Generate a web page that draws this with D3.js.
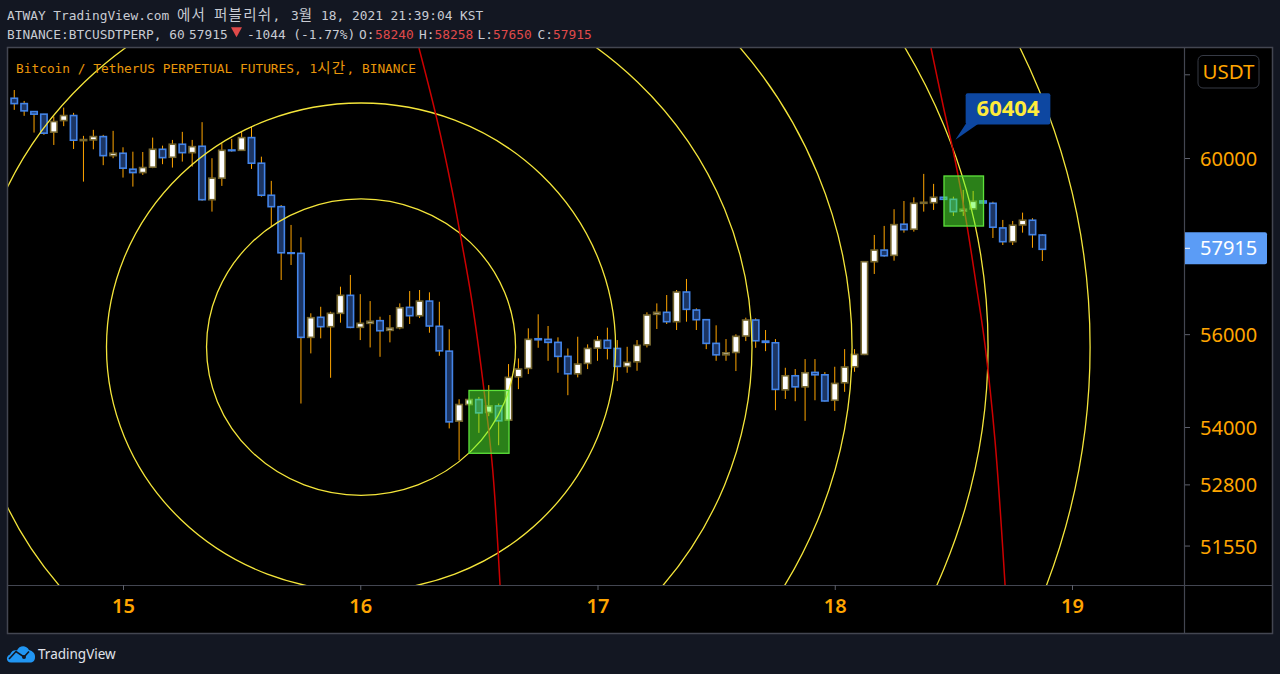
<!DOCTYPE html>
<html><head><meta charset="utf-8">
<style>html,body{margin:0;padding:0;background:#131722;overflow:hidden}svg{display:block}</style>
<script src="https://cdn.jsdelivr.net/npm/d3@7/dist/d3.min.js"></script>
</head><body><div id="c"></div>
<script>
// Hourly candles; first candle is 11 hours before the "15" tick
const firstHour = -11;
const opens = [61445,61316,61125,61063,60634,60910,61030,60434,60450,60529,60079,60135,59761,59682,59808,60229,60041,60348,60149,60300,59051,59551,60212,60205,60505,59901,59154,58890,57836,57823,55952,56393,56186,56481,56880,56172,56260,56318,56106,56163,56613,56428,56752,56194,55650,54145,54499,54605,54330,54469,54166,55094,55276,55921,55908,55842,55536,55159,55384,55716,55886,55709,55319,55419,55789,56459,56503,56296,56954,56554,56340,55820,55570,55622,55981,56333,55870,55833,54813,55116,54878,55189,55137,54590,54965,55311,55579,57634,57897,57778,58487,58372,58968,58982,59107,59060,58785,58838,59021,58968,58402,58088,58470,58578,58240];
const highs = [61643,61380,61125,61070,61006,61220,61094,60546,60689,60570,60665,60276,60172,60165,60505,60315,60450,60641,60450,60872,60018,60372,60474,60648,60767,60055,59488,58929,58470,58188,56481,56626,56516,57073,57336,56906,56752,56406,56443,56701,56976,56999,56947,56737,56128,54612,54612,54661,54915,54520,55369,55492,56150,56459,56201,55952,55709,55965,55798,55981,56164,55892,55745,55892,56503,56701,56887,56999,57246,56591,56355,56216,55914,56018,56384,56371,56113,55914,55289,55261,55477,55477,55196,55311,55694,55694,57650,58241,58448,58831,59021,59107,59651,59418,59107,59121,59278,59254,59021,59005,58585,58562,58753,58624,58258];
const lows = [61166,61023,60624,60570,60331,60777,60236,59471,60229,59855,60018,59565,59355,59628,59785,59878,59799,59939,59822,59028,58776,59371,60172,60200,59768,59121,58431,57223,57560,54520,55601,55930,55073,56274,56152,55892,55731,55527,55842,56128,56245,56377,56053,55549,53991,53323,54495,53897,54251,53637,54152,54828,55153,55723,55440,55181,54698,55081,55261,55440,55471,55001,55181,55224,55731,56135,56245,56113,56296,56113,55694,55440,55440,55218,55870,55723,55650,54378,54618,54569,54152,54590,54562,54363,54770,55202,55564,57358,57747,57657,58294,58317,58776,58815,59056,58677,58677,58826,58964,58172,58012,58012,58294,57950,57650];
const closes = [61316,61142,61063,60610,60887,61030,60443,60458,60529,60079,60135,59785,59682,59799,60229,60032,60348,60149,60291,59051,59551,60205,60196,60505,59901,59154,58890,57836,57830,55952,56384,56186,56481,56880,56172,56260,56305,56097,56157,56604,56428,56752,56201,55657,54130,54499,54605,54321,54469,54152,55081,55261,55908,55899,55842,55536,55159,55369,55709,55886,55716,55319,55406,55776,56443,56503,56296,56954,56569,56340,55820,55570,55614,55974,56333,55877,55842,54822,55116,54878,55181,55137,54575,54951,55304,55579,57634,57897,57769,58477,58363,58968,58991,59107,59060,58776,58831,59014,58975,58418,58088,58464,58578,58248,57915];

const dayLabels = [15,16,17,18,19];
const dayHours = [0,24,48,72,96];
const priceTicks = [62000,60000,56000,54000,52800,51550];
const lastPrice = 57915;
const currency = "USDT";

// Fibonacci rings: centre (hours, price) and radii in hours
const ringCentreHour = 24.08;
const ringCentrePrice = 55738;
const ringRadiiHours = [15.63,25.75,39.55,49.67,63.43,73.75];

// Red arcs: hours and prices
const arc1Hours = [29.94,31.77,33.28,34.09,35.28,36.52,37.40,38.14];
const arc1Prices = [62666,60925,59277,58288,56774,54804,53118,50778];
const arc2Hours = [81.74,82.95,84.17,85.28,86.39,87.20,88.21,89.23];
const arc2Prices = [62666,61283,59976,58588,56999,55780,53740,50778];

// Green rectangles
const boxHours = [[35,39.05],[83.05,87.05]];
const boxPrices = [[54800,53468],[59602,58445]];

const calloutValue = 60404;
const calloutHour = 84.2;

const W=1280,H=674;
const mono="'DejaVu Sans Mono','Liberation Mono',monospace";
const cjk="'Noto Sans CJK KR',sans-serif";
const sans="'Noto Sans','Noto Sans CJK KR',sans-serif";
const orange="#ffa500";
const frame={l:8,t:48,r:1272,b:633,px:1185,ty:585};

const svg=d3.select("#c").append("svg").attr("width",W).attr("height",H);
const x=d3.scaleLinear().domain([0,96]).range([123,1072]);
const y=d3.scaleLog().domain([54000,60000]).range([428,159]);

svg.append("rect").attr("x",frame.l).attr("y",frame.t).attr("width",frame.r-frame.l).attr("height",frame.b-frame.t).attr("fill","#000");

const defs=svg.append("defs");
defs.append("clipPath").attr("id","plot").append("rect").attr("x",frame.l).attr("y",frame.t).attr("width",frame.px-frame.l).attr("height",frame.ty-frame.t);

const plot=svg.append("g").attr("clip-path","url(#plot)");

// candles
const idx=d3.range(opens.length);
const hx=i=>x(firstHour+i);
const cw=6.4;
const g=plot.append("g");
g.selectAll("line.w").data(idx).join("line").attr("class","w")
 .attr("x1",hx).attr("x2",hx).attr("y1",i=>y(highs[i])).attr("y2",i=>y(lows[i]))
 .attr("stroke",orange).attr("stroke-width",1);
g.selectAll("rect.b").data(idx).join("rect").attr("class","b")
 .attr("x",i=>hx(i)-cw/2).attr("width",cw)
 .attr("y",i=>Math.min(y(opens[i]),y(closes[i])))
 .attr("height",i=>Math.max(0.6,Math.abs(y(opens[i])-y(closes[i]))))
 .attr("fill",i=>closes[i]<opens[i]?"#1c3563":"#ffffff")
 .attr("stroke",i=>closes[i]<opens[i]?"#4384e8":"#75662f")
 .attr("stroke-width",1.6);

// rings
const cx=x(ringCentreHour), cy=y(ringCentrePrice);
const pxPerHour=x(1)-x(0);
const aspect=0.959;
plot.selectAll("ellipse").data(ringRadiiHours).join("ellipse")
 .attr("cx",cx).attr("cy",cy)
 .attr("rx",r=>r*pxPerHour).attr("ry",r=>r*pxPerHour*aspect)
 .attr("fill","none").attr("stroke","#f4e53a").attr("stroke-width",1.3);

// red arcs
const arcLine=d3.line().x(d=>x(d[0])).y(d=>y(d[1])).curve(d3.curveCatmullRom);
[[arc1Hours,arc1Prices],[arc2Hours,arc2Prices]].forEach(([hs,ps])=>{
 plot.append("path").attr("d",arcLine(d3.zip(hs,ps))).attr("fill","none").attr("stroke","#cc0000").attr("stroke-width",1.5);
});

// green boxes
boxHours.forEach((hs,i)=>{
 const ps=boxPrices[i];
 plot.append("rect").attr("x",x(hs[0])).attr("width",x(hs[1])-x(hs[0]))
  .attr("y",y(ps[0])).attr("height",y(ps[1])-y(ps[0]))
  .attr("fill","rgba(85,255,50,0.5)").attr("stroke","#5de23a").attr("stroke-width",1.3);
});

// callout
const tipX=x(calloutHour), tipY=y(calloutValue)-2;
const co=plot.append("g");
co.append("path").attr("d",`M${tipX},${tipY}L${tipX+10.5},${tipY-16}L${tipX+23},${tipY-16}Z`).attr("fill","#0d47a1");
co.append("rect").attr("x",tipX+10.3).attr("y",tipY-46.7).attr("width",84.7).attr("height",31.4).attr("rx",2).attr("fill","#0d47a1");
co.append("text").attr("x",tipX+52.7).attr("y",tipY-23.5).attr("text-anchor","middle")
 .attr("font-family",sans).attr("font-size",22).attr("font-weight",700).attr("fill","#ffeb3b").text(calloutValue);

// frame lines
const lineCol="#434651";
svg.append("rect").attr("x",frame.l-0.5).attr("y",frame.t-0.5).attr("width",frame.r-frame.l+1).attr("height",frame.b-frame.t+1).attr("fill","none").attr("stroke",lineCol).attr("stroke-width",1.5);
svg.append("line").attr("x1",frame.px-0.5).attr("x2",frame.px-0.5).attr("y1",frame.t).attr("y2",frame.b).attr("stroke",lineCol).attr("stroke-width",1.2);
svg.append("line").attr("x1",frame.l).attr("x2",frame.r).attr("y1",frame.ty+0.5).attr("y2",frame.ty+0.5).attr("stroke",lineCol).attr("stroke-width",1.2);

// price axis
const yAxis=svg.append("g").attr("transform",`translate(${frame.px},0)`)
 .call(d3.axisRight(y).tickValues(priceTicks).tickSize(5).tickPadding(10).tickFormat(d=>d===62000?"":d3.format("d")(d)));
yAxis.select(".domain").remove();
yAxis.selectAll(".tick line").attr("stroke","#5d606b").attr("y1",-1).attr("y2",-1);
yAxis.selectAll("text").attr("font-family",sans).attr("font-size",20).attr("fill",orange).attr("x",15).attr("dy","0.33em");

// time axis
const xAxis=svg.append("g").attr("transform",`translate(0,${frame.ty})`)
 .call(d3.axisBottom(x).tickValues(dayHours).tickSize(5).tickPadding(8).tickFormat((d,i)=>dayLabels[i]));
xAxis.select(".domain").remove();
xAxis.selectAll(".tick line").attr("stroke","#5d606b");
xAxis.selectAll("text").attr("font-family",sans).attr("font-size",20).attr("font-weight",600).attr("fill",orange).attr("y",14).attr("dy","0.71em");

// last price label
const ly=y(lastPrice);
svg.append("path").attr("d",`M${frame.px},${ly-17}H1265a2,2 0 0 1 2,2V${ly+13}a2,2 0 0 1 -2,2H${frame.px}Z`).attr("fill","#5b9cf6");
svg.append("line").attr("x1",frame.px).attr("x2",frame.px+5).attr("y1",ly-1).attr("y2",ly-1).attr("stroke","#fff");
svg.append("text").attr("x",frame.px+15).attr("y",ly-1).attr("dy","0.35em").attr("font-family",sans).attr("font-size",20).attr("fill","#fff").text(lastPrice);

// currency badge
svg.append("rect").attr("x",1198).attr("y",55.5).attr("width",61).attr("height",32.5).attr("rx",5).attr("fill","#000").attr("stroke","#363a45");
svg.append("text").attr("x",1228.5).attr("y",71.5).attr("dy","0.35em").attr("text-anchor","middle").attr("font-family",sans).attr("font-size",20.5).attr("fill",orange).text(currency);

// header: Latin runs in mono, Hangul runs in the wider CJK face
const monoSize=12.83;
function t(xp,yp,s,col){
 const el=svg.append("text").attr("x",xp).attr("y",yp).attr("fill",col).style("white-space","pre");
 s.split(/([\uAC00-\uD7A3]+)/).filter(p=>p.length).forEach(p=>{
  const hangul=/[\uAC00-\uD7A3]/.test(p);
  el.append("tspan").attr("font-family",hangul?cjk:mono).attr("font-size",hangul?14.5:monoSize)
    .attr("letter-spacing",hangul?1.3:0).text(p);
 });
 return el;
}
const ink="#c8cbd3", red="#e04a4a";
t(7,20,"ATWAY TradingView.com 에서 퍼블리쉬,",ink);
t(291,20,"3월 18, 2021 21:39:04 KST",ink);
t(7,38.5,"BINANCE:BTCUSDTPERP, 60",ink);
t(189,38.5,"57915",ink);
svg.append("path").attr("d","M231,27.3H242L236.5,37.3Z").attr("fill",red);
t(247,38.5,"-1044 (-1.77%)",ink);
t(359,38.5,"O:",ink); t(375,38.5,"58240",red);
t(419,38.5,"H:",ink); t(434.5,38.5,"58258",red);
t(477.5,38.5,"L:",ink); t(493,38.5,"57650",red);
t(537.5,38.5,"C:",ink); t(553,38.5,"57915",red);
t(16,73,"Bitcoin / TetherUS PERPETUAL FUTURES, 1시간, BINANCE","#e8960a");

// logo
const logo=svg.append("g");
logo.append("path").attr("fill","#2196f3").attr("d","M11,662.5C6,662.5 5.5,656 10,654.5C12,650 15,650 17,650.5C19,645.5 26,644.5 29,650C33,651 35.5,654 35,657.5C35,660.5 33,662.5 30,662.5Z");
logo.append("polyline").attr("points","9,659 16,651.5 24,657 29,651.5").attr("fill","none").attr("stroke","#131722").attr("stroke-width",1.6);
logo.append("circle").attr("cx",24).attr("cy",657).attr("r",2).attr("fill","#131722");
svg.append("text").attr("x",38).attr("y",659).attr("font-family",sans).attr("font-size",13.5).attr("fill","#e0e3eb").text("TradingView");
</script></body></html>
